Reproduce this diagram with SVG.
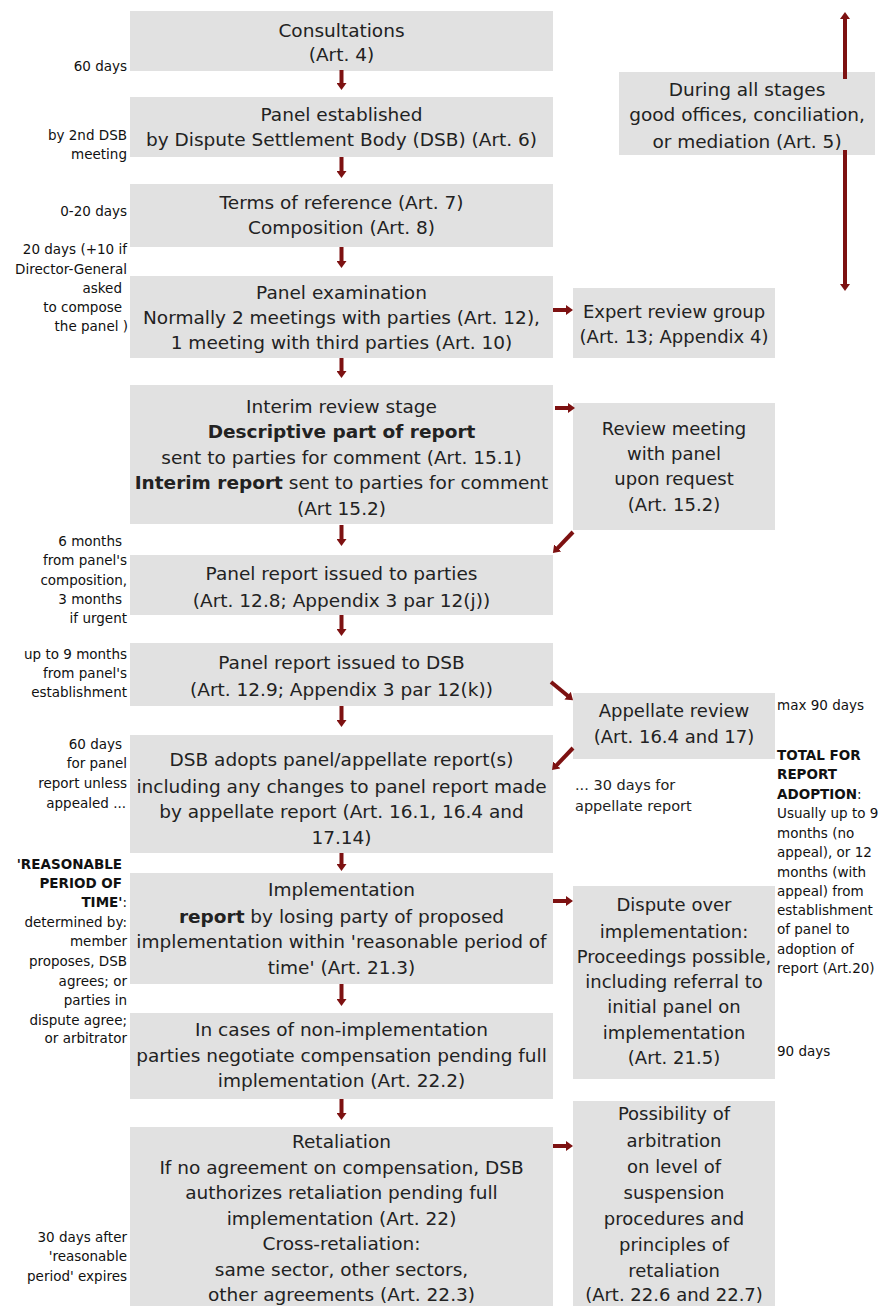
<svg xmlns="http://www.w3.org/2000/svg" width="886" height="1306" viewBox="0 0 886 1306">
<style>
.box{fill:#e1e1e1}
.t{font-family:"DejaVu Sans",sans-serif;font-size:18.5px;fill:#222;text-anchor:middle}
.r{font-size:18px}
.nl{font-family:"DejaVu Sans",sans-serif;font-size:13.5px;fill:#111;text-anchor:end}
.nr{font-family:"DejaVu Sans",sans-serif;font-size:13.5px;fill:#111;text-anchor:start}
.ns{font-family:"DejaVu Sans",sans-serif;font-size:14.5px;fill:#222;text-anchor:start}
.b{font-weight:bold}
.c{stroke:#7d1111;stroke-width:4;fill:none;marker-end:url(#ah)}
</style>
<defs>
<marker id="ah" viewBox="0 0 7 10" refX="0.5" refY="5" markerWidth="7" markerHeight="10" markerUnits="userSpaceOnUse" orient="auto">
<path d="M0,0 L7,5 L0,10 z" fill="#7d1111"/>
</marker>
</defs>
<rect width="886" height="1306" fill="#ffffff"/>

<g id="consultations"><rect class="box" x="130" y="11" width="423" height="60"/>
<text class="t" x="341.5" y="37">Consultations</text><text class="t" x="341.5" y="61">(Art. 4)</text></g>

<g id="panel-established"><rect class="box" x="130" y="97" width="423" height="60"/>
<text class="t" x="341.5" y="121">Panel established</text><text class="t" x="341.5" y="146">by Dispute Settlement Body (DSB) (Art. 6)</text></g>

<g id="terms"><rect class="box" x="130" y="184" width="423" height="63"/>
<text class="t" x="341.5" y="209">Terms of reference (Art. 7)</text><text class="t" x="341.5" y="234">Composition (Art. 8)</text></g>

<g id="panel-examination"><rect class="box" x="130" y="276" width="423" height="82"/>
<text class="t" x="341.5" y="299">Panel examination</text>
<text class="t" x="341.5" y="324">Normally 2 meetings with parties (Art. 12),</text>
<text class="t" x="341.5" y="349">1 meeting with third parties (Art. 10)</text></g>

<g id="interim-review"><rect class="box" x="130" y="385" width="423" height="139"/>
<text class="t" x="341.5" y="413">Interim review stage</text>
<text class="t b" x="341.5" y="438">Descriptive part of report</text>
<text class="t" x="341.5" y="464">sent to parties for comment (Art. 15.1)</text>
<text class="t" x="341.5" y="489"><tspan class="b">Interim report</tspan> sent to parties for comment</text>
<text class="t" x="341.5" y="515">(Art 15.2)</text></g>

<g id="report-parties"><rect class="box" x="130" y="555" width="423" height="60"/>
<text class="t" x="341.5" y="580">Panel report issued to parties</text>
<text class="t" x="341.5" y="607">(Art. 12.8; Appendix 3 par 12(j))</text></g>

<g id="report-dsb"><rect class="box" x="130" y="643" width="423" height="63"/>
<text class="t" x="341.5" y="669">Panel report issued to DSB</text>
<text class="t" x="341.5" y="696">(Art. 12.9; Appendix 3 par 12(k))</text></g>

<g id="dsb-adopts"><rect class="box" x="130" y="735" width="423" height="118"/>
<text class="t" x="341.5" y="766">DSB adopts panel/appellate report(s)</text>
<text class="t" x="341.5" y="793">including any changes to panel report made</text>
<text class="t" x="341.5" y="818">by appellate report (Art. 16.1, 16.4 and</text>
<text class="t" x="341.5" y="844">17.14)</text></g>

<g id="implementation"><rect class="box" x="130" y="873" width="423" height="111"/>
<text class="t" x="341.5" y="896">Implementation</text>
<text class="t" x="341.5" y="923"><tspan class="b">report</tspan> by losing party of proposed</text>
<text class="t" x="341.5" y="948">implementation within 'reasonable period of</text>
<text class="t" x="341.5" y="974">time' (Art. 21.3)</text></g>

<g id="non-implementation"><rect class="box" x="130" y="1013" width="423" height="86"/>
<text class="t" x="341.5" y="1036">In cases of non-implementation</text>
<text class="t" x="341.5" y="1062">parties negotiate compensation pending full</text>
<text class="t" x="341.5" y="1087">implementation (Art. 22.2)</text></g>

<g id="retaliation"><rect class="box" x="130" y="1127" width="423" height="179"/>
<text class="t" x="341.5" y="1148">Retaliation</text>
<text class="t" x="341.5" y="1174">If no agreement on compensation, DSB</text>
<text class="t" x="341.5" y="1199">authorizes retaliation pending full</text>
<text class="t" x="341.5" y="1225">implementation (Art. 22)</text>
<text class="t" x="341.5" y="1250">Cross-retaliation:</text>
<text class="t" x="341.5" y="1276">same sector, other sectors,</text>
<text class="t" x="341.5" y="1301">other agreements (Art. 22.3)</text></g>

<g id="good-offices"><rect class="box" x="619" y="72" width="256" height="83"/>
<text class="t" x="747" y="96">During all stages</text>
<text class="t" x="747" y="121">good offices, conciliation,</text>
<text class="t" x="747" y="148">or mediation (Art. 5)</text></g>

<g id="expert-review"><rect class="box" x="573" y="288" width="202" height="70"/>
<text class="t r" x="674" y="318">Expert review group</text>
<text class="t r" x="674" y="343">(Art. 13; Appendix 4)</text></g>

<g id="review-meeting"><rect class="box" x="573" y="403" width="202" height="127"/>
<text class="t r" x="674" y="435">Review meeting</text>
<text class="t r" x="674" y="460">with panel</text>
<text class="t r" x="674" y="485">upon request</text>
<text class="t r" x="674" y="511">(Art. 15.2)</text></g>

<g id="appellate-review"><rect class="box" x="573" y="693" width="202" height="66"/>
<text class="t r" x="674" y="717">Appellate review</text>
<text class="t r" x="674" y="743">(Art. 16.4 and 17)</text></g>

<g id="dispute-implementation"><rect class="box" x="573" y="886" width="202" height="193"/>
<text class="t r" x="674" y="911">Dispute over</text>
<text class="t r" x="674" y="938">implementation:</text>
<text class="t r" x="674" y="963">Proceedings possible,</text>
<text class="t r" x="674" y="988">including referral to</text>
<text class="t r" x="674" y="1013">initial panel on</text>
<text class="t r" x="674" y="1039">implementation</text>
<text class="t r" x="674" y="1064">(Art. 21.5)</text></g>

<g id="arbitration"><rect class="box" x="573" y="1101" width="202" height="205"/>
<text class="t r" x="674" y="1120">Possibility of</text>
<text class="t r" x="674" y="1147">arbitration</text>
<text class="t r" x="674" y="1173">on level of</text>
<text class="t r" x="674" y="1199">suspension</text>
<text class="t r" x="674" y="1225">procedures and</text>
<text class="t r" x="674" y="1251">principles of</text>
<text class="t r" x="674" y="1277">retaliation</text>
<text class="t r" x="674" y="1301">(Art. 22.6 and 22.7)</text></g>

<g id="connectors">
<line class="c" x1="341.5" y1="70" x2="341.5" y2="83.5"/>
<line class="c" x1="341.5" y1="157" x2="341.5" y2="171.5"/>
<line class="c" x1="341.5" y1="247" x2="341.5" y2="261.5"/>
<line class="c" x1="341.5" y1="358" x2="341.5" y2="371.5"/>
<line class="c" x1="341.5" y1="525" x2="341.5" y2="539.5"/>
<line class="c" x1="341.5" y1="615" x2="341.5" y2="629.5"/>
<line class="c" x1="341.5" y1="706" x2="341.5" y2="720.5"/>
<line class="c" x1="341.5" y1="853" x2="341.5" y2="864.5"/>
<line class="c" x1="341.5" y1="984" x2="341.5" y2="999.5"/>
<line class="c" x1="341.5" y1="1099" x2="341.5" y2="1113.5"/>
<line class="c" x1="553" y1="310" x2="566.5" y2="310"/>
<line class="c" x1="555" y1="408" x2="568.5" y2="408"/>
<line class="c" x1="553" y1="901" x2="566.5" y2="901"/>
<line class="c" x1="553" y1="1146" x2="566.5" y2="1146"/>
<line class="c" x1="573" y1="532" x2="557.4" y2="548.3"/>
<line class="c" x1="551" y1="682" x2="568" y2="696"/>
<line class="c" x1="573" y1="748" x2="556.5" y2="765.3"/>
<line class="c" x1="845" y1="79" x2="845" y2="18.5"/>
<line class="c" x1="845" y1="150" x2="845" y2="284.5"/>
</g>

<g id="notes-left">
<text class="nl" x="127" y="70.5">60 days</text>
<text class="nl" x="127" y="139.5">by 2nd DSB</text>
<text class="nl" x="127" y="158.5">meeting</text>
<text class="nl" x="127" y="215.5">0-20 days</text>
<text class="nl" x="127" y="253.5">20 days (+10 if</text>
<text class="nl" x="127" y="273.5">Director-General</text>
<text class="nl" x="122" y="292.5">asked</text>
<text class="nl" x="122" y="312">to compose</text>
<text class="nl" x="128" y="331">the panel )</text>
<text class="nl" x="122" y="545.5">6 months</text>
<text class="nl" x="127" y="565">from panel's</text>
<text class="nl" x="127" y="584.5">composition,</text>
<text class="nl" x="122" y="603.5">3 months</text>
<text class="nl" x="127" y="622.5">if urgent</text>
<text class="nl" x="127" y="658.5">up to 9 months</text>
<text class="nl" x="127" y="677.5">from panel's</text>
<text class="nl" x="127" y="696.5">establishment</text>
<text class="nl" x="122" y="748.5">60 days</text>
<text class="nl" x="127" y="767.5">for panel</text>
<text class="nl" x="127" y="787.5">report unless</text>
<text class="nl" x="126" y="807.5">appealed ...</text>
<text class="nl b" x="122" y="868.5">'REASONABLE</text>
<text class="nl b" x="122" y="887.5">PERIOD OF</text>
<text class="nl" x="127" y="906.5"><tspan class="b">TIME'</tspan>:</text>
<text class="nl" x="127" y="926.5">determined by:</text>
<text class="nl" x="127" y="945.5">member</text>
<text class="nl" x="127" y="965.5">proposes, DSB</text>
<text class="nl" x="127" y="985.5">agrees; or</text>
<text class="nl" x="127" y="1004.5">parties in</text>
<text class="nl" x="127" y="1024.5">dispute agree;</text>
<text class="nl" x="127" y="1042.5">or arbitrator</text>
<text class="nl" x="127" y="1241.5">30 days after</text>
<text class="nl" x="127" y="1260.5">'reasonable</text>
<text class="nl" x="127" y="1280.5">period' expires</text>
</g>

<g id="notes-right">
<text class="nr" x="777" y="709.5">max 90 days</text>
<text class="nr b" x="777" y="759.5">TOTAL FOR</text>
<text class="nr b" x="777" y="778.5">REPORT</text>
<text class="nr" x="777" y="798.5"><tspan class="b">ADOPTION</tspan>:</text>
<text class="nr" x="777" y="817.5">Usually up to 9</text>
<text class="nr" x="777" y="837.5">months (no</text>
<text class="nr" x="777" y="856.5">appeal), or 12</text>
<text class="nr" x="777" y="876.5">months (with</text>
<text class="nr" x="777" y="895.5">appeal) from</text>
<text class="nr" x="777" y="914.5">establishment</text>
<text class="nr" x="777" y="933.5">of panel to</text>
<text class="nr" x="777" y="953.5">adoption of</text>
<text class="nr" x="777" y="972.5">report (Art.20)</text>
<text class="nr" x="777" y="1055.5">90 days</text>
<text class="ns" x="575" y="790">... 30 days for</text>
<text class="ns" x="575" y="811">appellate report</text>
</g>
</svg>
